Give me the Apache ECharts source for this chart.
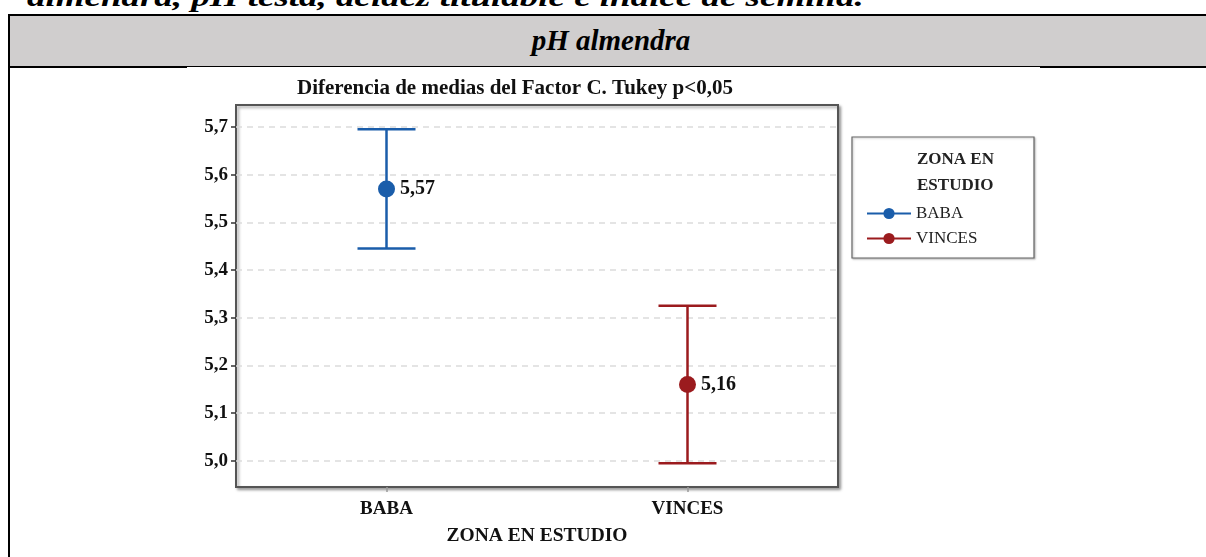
<!DOCTYPE html>
<html>
<head>
<meta charset="utf-8">
<script src="https://cdn.jsdelivr.net/npm/echarts@6/dist/echarts.min.js"></script>
<style>
  html, body { margin: 0; padding: 0; background: #fff; }
  body { width: 1206px; height: 557px; position: relative; overflow: hidden; }
  .caption {
    position: absolute; left: 27px; top: -19px; white-space: nowrap; line-height: 28px;
    font: italic bold 28px "Liberation Serif", serif; color: #000;
    transform: scaleX(1.32); transform-origin: left top;
  }
  .cell-top { position: absolute; left: 8px; top: 14px; right: -10px; height: 2px; background: #000; }
  .cell-left { position: absolute; left: 8px; top: 14px; width: 2px; bottom: -10px; background: #000; }
  .header {
    position: absolute; left: 10px; top: 16px; right: -10px; height: 50px;
    background: #d0cece; border-bottom: 2px solid #000;
  }
  .header span {
    position: absolute; left: 601px; top: 50%; transform: translate(-50%, -52%);
    font: italic bold 29px "Liberation Serif", serif; color: #000; white-space: nowrap;
  }
  .paper { position: absolute; left: 187px; top: 67px; width: 853px; height: 500px; background: #fff; }
  #chart { position: absolute; left: 0; top: 0; width: 1206px; height: 557px; }
</style>
</head>
<body>
<div class="caption">almendra, pH testa, acidez titulable e índice de semilla.</div>
<div class="cell-top"></div>
<div class="cell-left"></div>
<div class="header"><span>pH almendra</span></div>
<div class="paper"></div>
<div id="chart"></div>
<script>
  const categories = ["BABA", "VINCES"];
  const means = [5.57, 5.16];
  const lower = [5.445, 4.995];
  const upper = [5.695, 5.325];
  const colors = ["#1a5daa", "#9b1b1e"];

  const serif = "Liberation Serif, Times New Roman, serif";
  const comma = v => String(v).replace(".", ",");

  const chart = echarts.init(document.getElementById("chart"), null, { renderer: "canvas" });

  // one line series per zone so the legend gets the line+dot icon
  const meanSeries = categories.map((name, i) => ({
    name: name,
    type: "line",
    data: categories.map((c, j) => (j === i ? means[i] : null)),
    symbol: "circle",
    symbolSize: 17,
    showSymbol: true,
    color: colors[i],
    lineStyle: { width: 2.5, color: colors[i] },
    itemStyle: { color: colors[i] },
    label: {
      show: true, position: "right", distance: 5,
      formatter: p => comma(p.value),
      fontFamily: serif, fontWeight: "bold", fontSize: 20, color: "#111"
    },
    z: 5
  }));

  const errorSeries = {
    name: "intervalo",
    type: "custom",
    data: categories.map((c, i) => [i, lower[i], upper[i]]),
    renderItem: function (params, api) {
      const i = api.value(0);
      const lo = api.coord([i, api.value(1)]);
      const hi = api.coord([i, api.value(2)]);
      const half = 29;
      const style = { stroke: colors[i], lineWidth: 2.5 };
      return {
        type: "group",
        children: [
          { type: "line", shape: { x1: hi[0], y1: hi[1], x2: lo[0], y2: lo[1] }, style: style },
          { type: "line", shape: { x1: hi[0] - half, y1: hi[1], x2: hi[0] + half, y2: hi[1] }, style: style },
          { type: "line", shape: { x1: lo[0] - half, y1: lo[1], x2: lo[0] + half, y2: lo[1] }, style: style }
        ]
      };
    },
    z: 3
  };

  chart.setOption({
    animation: false,
    title: {
      text: "Diferencia de medias del Factor C. Tukey p<0,05",
      left: 510, top: 73, textAlign: "center",
      textStyle: { fontFamily: serif, fontWeight: "bold", fontSize: 21, color: "#111" }
    },
    grid: {
      left: 236, top: 105, width: 602, height: 382,
      show: true, backgroundColor: "#fff",
      borderColor: "#555", borderWidth: 2,
      shadowColor: "rgba(0,0,0,0.35)", shadowBlur: 3, shadowOffsetX: 2, shadowOffsetY: 2
    },
    legend: {
      data: categories,
      orient: "vertical",
      left: 861, top: 200,
      itemWidth: 44, itemHeight: 14, itemGap: 8,
      textStyle: { fontFamily: serif, fontSize: 17, color: "#222" }
    },
    graphic: [
      {
        type: "rect",
        shape: { x: 852, y: 137, width: 182, height: 121 },
        style: { fill: "#fff", stroke: "#666", lineWidth: 1.2,
                 shadowColor: "rgba(0,0,0,0.25)", shadowBlur: 2, shadowOffsetX: 1, shadowOffsetY: 1 },
        z: -1
      },
      {
        type: "text", x: 917, y: 147,
        style: { text: "ZONA EN\nESTUDIO", fontFamily: serif, fontWeight: "bold", fontSize: 17,
                 lineHeight: 26, fill: "#222" }
      }
    ],
    xAxis: {
      type: "category",
      data: categories,
      boundaryGap: true,
      axisLine: { show: false },
      axisTick: { show: true, alignWithLabel: true, length: 5, lineStyle: { color: "#999", width: 1.5 } },
      axisLabel: { margin: 13, fontFamily: serif, fontWeight: "bold", fontSize: 19, color: "#111" },
      splitLine: { show: false },
      name: "ZONA EN ESTUDIO",
      nameLocation: "middle",
      nameGap: 39,
      nameTextStyle: { fontFamily: serif, fontWeight: "bold", fontSize: 19.5, color: "#111" }
    },
    yAxis: {
      type: "value",
      min: 4.945, max: 5.746,
      splitNumber: 8, minInterval: 0.1, maxInterval: 0.1,
      axisLine: { show: false },
      axisTick: { show: true, length: 5, lineStyle: { color: "#333", width: 1.5 } },
      axisLabel: {
        margin: 8, showMinLabel: false, showMaxLabel: false,
        formatter: v => (Math.abs(v * 10 - Math.round(v * 10)) < 1e-6 ? comma(v.toFixed(1)) : ""),
        fontFamily: serif, fontWeight: "bold", fontSize: 19, color: "#111"
      },
      splitLine: {
        show: true, showMinLine: false, showMaxLine: false,
        lineStyle: { color: "#dcdcdc", width: 1.5, type: [6, 5] }
      }
    },
    series: [errorSeries].concat(meanSeries)
  });
</script>
</body>
</html>
